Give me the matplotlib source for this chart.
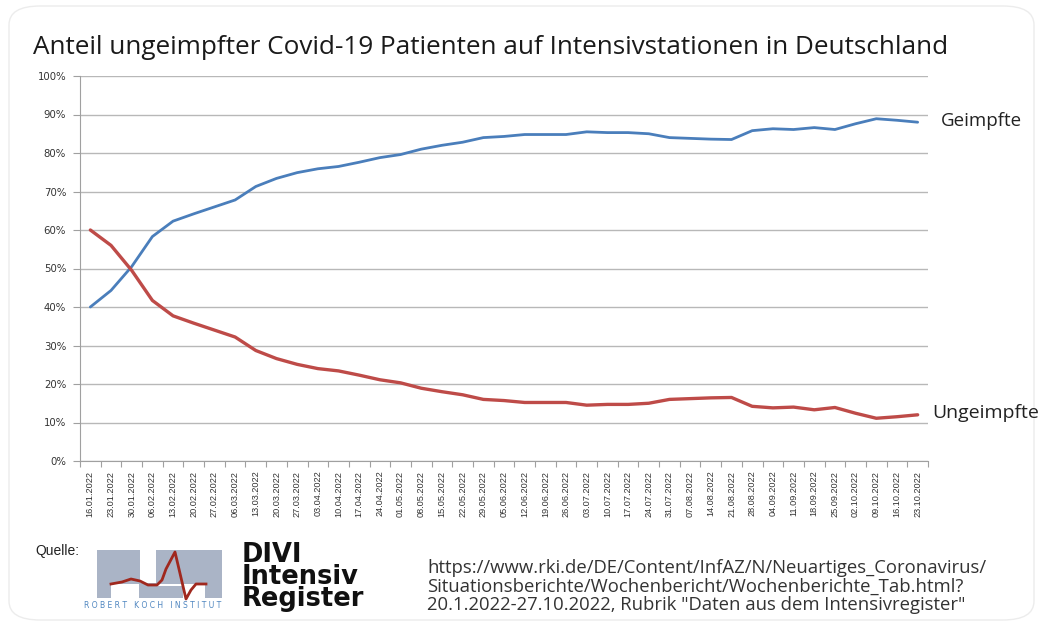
import matplotlib
matplotlib.use("Agg")
import matplotlib.pyplot as plt
from matplotlib.patches import FancyBboxPatch, Rectangle
from matplotlib.lines import Line2D

W, H = 1045, 627

dates = ["16.01.2022", "23.01.2022", "30.01.2022", "06.02.2022", "13.02.2022", "20.02.2022",
         "27.02.2022", "06.03.2022", "13.03.2022", "20.03.2022", "27.03.2022", "03.04.2022",
         "10.04.2022", "17.04.2022", "24.04.2022", "01.05.2022", "08.05.2022", "15.05.2022",
         "22.05.2022", "29.05.2022", "05.06.2022", "12.06.2022", "19.06.2022", "26.06.2022",
         "03.07.2022", "10.07.2022", "17.07.2022", "24.07.2022", "31.07.2022", "07.08.2022",
         "14.08.2022", "21.08.2022", "28.08.2022", "04.09.2022", "11.09.2022", "18.09.2022",
         "25.09.2022", "02.10.2022", "09.10.2022", "16.10.2022", "23.10.2022"]

geimpfte = [40.0, 44.3, 50.5, 58.3, 62.3, 64.2, 66.0, 67.8, 71.3, 73.4, 74.9, 75.9, 76.5, 77.6,
            78.8, 79.6, 81.0, 82.0, 82.8, 84.0, 84.3, 84.8, 84.8, 84.8, 85.5, 85.3, 85.3, 85.0,
            84.0, 83.8, 83.6, 83.5, 85.8, 86.3, 86.1, 86.6, 86.1, 87.6, 88.9, 88.5, 88.0]

ungeimpfte = [60.0, 56.0, 49.5, 41.7, 37.7, 35.8, 34.0, 32.2, 28.7, 26.6, 25.1, 24.0, 23.4, 22.3,
              21.1, 20.3, 18.9, 18.0, 17.2, 16.0, 15.7, 15.2, 15.2, 15.2, 14.5, 14.7, 14.7, 15.0,
              16.0, 16.2, 16.4, 16.5, 14.2, 13.8, 14.0, 13.3, 13.9, 12.4, 11.1, 11.5, 12.0]

y_ticks = [0, 10, 20, 30, 40, 50, 60, 70, 80, 90, 100]
y_labels = [f"{v}%" for v in y_ticks]

title = "Anteil ungeimpfter Covid-19 Patienten auf Intensivstationen in Deutschland"
url_lines = ["https://www.rki.de/DE/Content/InfAZ/N/Neuartiges_Coronavirus/",
             "Situationsberichte/Wochenbericht/Wochenberichte_Tab.html?",
             "20.1.2022-27.10.2022, Rubrik \"Daten aus dem Intensivregister\""]
divi_lines = ["DIVI", "Intensiv", "Register"]


def px(x, y):
    return x / W, 1 - y / H


fig = plt.figure(figsize=(W / 100, H / 100), dpi=100)
fig.patch.set_facecolor("white")

# faint card border
card = FancyBboxPatch(px(9, 620), (1034 - 9) / W, (620 - 6) / H,
                      boxstyle="round,pad=0,rounding_size=0.03",
                      transform=fig.transFigure, facecolor="none",
                      edgecolor="#ececec", lw=1.0, zorder=-5)
fig.patches.append(card)

left, right, top, bottom = 80, 928, 76, 461
ax = fig.add_axes([left / W, 1 - bottom / H, (right - left) / W, (bottom - top) / H])
ax.set_facecolor("none")

x = list(range(len(dates)))
ax.plot(x, geimpfte, color="#4a7ebb", lw=2.0, solid_capstyle="round", zorder=3)
ax.plot(x, ungeimpfte, color="#be4b48", lw=2.4, solid_capstyle="round", zorder=3)

ax.set_xlim(-0.5, len(dates) - 0.5)
ax.set_ylim(0, 100)
ax.set_yticks(y_ticks)
ax.set_yticklabels(y_labels, fontsize=7.3, color="#333333", family="DejaVu Sans")
ax.yaxis.grid(True, color="#b8b8b8", lw=1.0)
ax.set_axisbelow(True)
ax.tick_params(axis="y", length=5, color="#a0a0a0", width=0.8, pad=5)

ax.set_xticks(x)
ax.set_xticklabels(dates, rotation=90, fontsize=6.6, color="#333333", family="Liberation Sans")
ax.tick_params(axis="x", which="major", length=0, pad=7)
ax.set_xticks([i - 0.5 for i in range(len(dates) + 1)], minor=True)
ax.tick_params(axis="x", which="minor", length=4, color="#a0a0a0", width=0.8)

for s in ["top", "right"]:
    ax.spines[s].set_visible(False)
ax.spines["left"].set_color("#a0a0a0")
ax.spines["bottom"].set_color("#a0a0a0")

ax.annotate("Geimpfte", xy=(1, geimpfte[-1] / 100), xycoords="axes fraction",
            xytext=(9, 1), textcoords="offset points", va="center", ha="left",
            fontsize=13.5, color="#222222", family="Open Sans")
ax.annotate("Ungeimpfte", xy=(1, ungeimpfte[-1] / 100), xycoords="axes fraction",
            xytext=(3, 1), textcoords="offset points", va="center", ha="left",
            fontsize=14, color="#222222", family="Open Sans")

fig.text(*px(33, 47), title, fontsize=18.8, color="#1a1a1a", family="Open Sans",
         ha="left", va="center")

# bottom source area
fig.text(*px(35, 551), "Quelle:", fontsize=10, color="#222222", family="Liberation Sans",
         ha="left", va="center")

# RKI logo (approximation)
grey = "#aab4c6"
fig.patches.append(Rectangle(px(97, 598), (222 - 97) / W, (598 - 550) / H,
                             transform=fig.transFigure, facecolor=grey, edgecolor="none"))
for (x0, y0, x1, y1) in [(140, 550, 156, 583), (111, 584, 139, 598), (183, 584, 205, 598),
                         (156, 584, 183, 586)]:
    fig.patches.append(Rectangle(px(x0, y1), (x1 - x0) / W, (y1 - y0) / H,
                                 transform=fig.transFigure, facecolor="white", edgecolor="none"))
ecg_x = [111, 122, 131, 140, 148, 157, 162, 166, 175, 186, 191, 196, 206]
ecg_y = [584, 582, 579, 581, 585, 585, 580, 569, 552, 599, 590, 584, 584]
fig.lines.append(Line2D([v / W for v in ecg_x], [1 - v / H for v in ecg_y],
                        transform=fig.transFigure, color="#a0281e", lw=2.0,
                        solid_joinstyle="round"))
fig.text(*px(153, 605), "R O B E R T   K O C H   I N S T I T U T", fontsize=5.5,
         color="#4f86c0", family="DejaVu Sans", ha="center", va="center")

fig.text(*px(242, 577), "\n".join(divi_lines), fontsize=18.5, color="#111111",
         family="DejaVu Sans", weight="bold", ha="left", va="center", linespacing=0.8)

fig.text(*px(427, 586.5), "\n".join(url_lines), fontsize=13.3, color="#333333",
         family="Open Sans", ha="left", va="center", linespacing=1.05)

fig.savefig("out.png", dpi=100, facecolor="white")
